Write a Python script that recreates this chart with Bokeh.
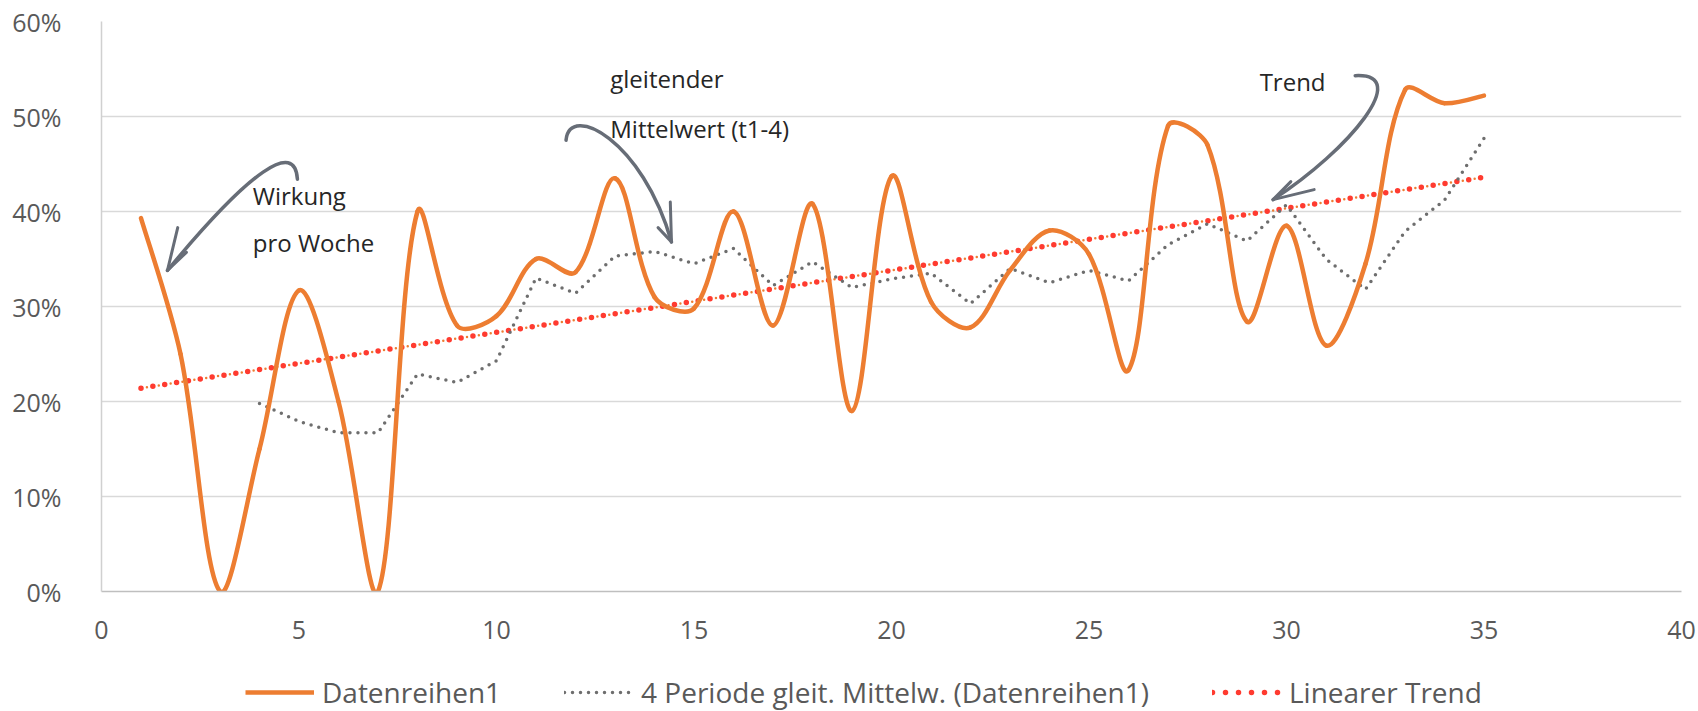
import math
from bokeh.plotting import figure
from bokeh.layouts import column
from bokeh.models import Range1d, FixedTicker, PrintfTickFormatter, Legend, LegendItem
from bokeh.embed import file_html
from bokeh.resources import INLINE
from bokeh.core.properties import value

# ---------------- data ----------------
weeks = list(range(1, 36))
wirkung = [39.3, 25.0, 0.0, 15.0, 31.7, 20.0, 0.0, 40.0, 28.0, 29.0,
           35.0, 33.6, 43.5, 31.0, 29.8, 40.0, 28.0, 40.8, 19.0, 43.7,
           30.5, 27.8, 33.8, 38.0, 35.5, 23.3, 49.0, 47.0, 28.4, 38.5,
           25.9, 34.5, 52.8, 51.4, 52.2]

ma_weeks = list(range(4, 36))
ma_values = [19.8, 17.9, 16.7, 16.7, 22.9, 22.0, 24.3, 33.0,
             31.4, 35.3, 35.8, 34.5, 36.1, 32.2, 34.7, 32.0,
             32.9, 33.5, 30.3, 34.0, 32.5, 33.8, 32.7, 36.5,
             38.7, 36.9, 40.7, 35.0, 31.8, 37.9, 41.2, 47.7]

trend_weeks = [1, 35]
trend_values = [21.4, 43.6]

x_ticks = [0, 5, 10, 15, 20, 25, 30, 35, 40]
y_ticks = [0, 10, 20, 30, 40, 50, 60]

legend_labels = ["Datenreihen1", "4 Periode gleit. Mittelw. (Datenreihen1)", "Linearer Trend"]
annot_texts = ["Wirkung", "pro Woche", "gleitender", "Mittelwert (t1-4)", "Trend"]

# ---------------- styling ----------------
W = 1698
H_MAIN, H_LEG = 652, 59
MB_L, MB_R, MB_T = 101, 17, 21
MB_B = H_MAIN - 21 - 570
FONT = "Open Sans"
ORANGE = "#ED7D31"
GRAY = "#6E6E6E"
RED = "#FF3B30"
ARROW = "#676D77"

PX_X = (W - MB_L - MB_R) / 40.0
PX_Y = (H_MAIN - MB_T - MB_B) / 60.0


def smooth_segments(xs, ys):
    """Bezier control points (Excel-like smoothing) for a smooth line through the points."""
    n = len(xs)

    def dist(i, j):
        return math.hypot((xs[j] - xs[i]) * PX_X, (ys[j] - ys[i]) * PX_Y)

    out = {k: [] for k in ("x0", "y0", "x1", "y1", "cx0", "cy0", "cx1", "cy1")}
    for i in range(n - 1):
        im1 = max(i - 1, 0)
        ip2 = min(i + 2, n - 1)
        di = dist(i, i + 1)
        dprev = dist(im1, i) if i > 0 else di
        dnext = dist(i + 1, ip2) if i + 2 <= n - 1 else di
        f0 = di / (3 * (dprev + di))
        f1 = di / (3 * (di + dnext))
        out["x0"].append(xs[i]); out["y0"].append(ys[i])
        out["x1"].append(xs[i + 1]); out["y1"].append(ys[i + 1])
        out["cx0"].append(xs[i] + (xs[i + 1] - xs[im1]) * f0)
        out["cy0"].append(ys[i] + (ys[i + 1] - ys[im1]) * f0)
        out["cx1"].append(xs[i + 1] - (xs[ip2] - xs[i]) * f1)
        out["cy1"].append(ys[i + 1] - (ys[ip2] - ys[i]) * f1)
    return out


p = figure(width=W, height=H_MAIN, x_range=Range1d(0, 40), y_range=Range1d(0, 60),
           output_backend="svg", toolbar_location=None,
           min_border_left=MB_L, min_border_right=MB_R,
           min_border_top=MB_T, min_border_bottom=MB_B)
p.outline_line_color = None
p.background_fill_color = "white"
p.border_fill_color = "white"

p.xgrid.visible = False
p.ygrid.grid_line_color = "#D9D9D9"
p.ygrid.grid_line_width = 1.5
p.ygrid.ticker = FixedTicker(ticks=y_ticks)

p.xaxis.ticker = FixedTicker(ticks=x_ticks)
p.yaxis.ticker = FixedTicker(ticks=y_ticks)
p.yaxis.formatter = PrintfTickFormatter(format="%d%%")
for ax in (p.xaxis, p.yaxis):
    ax.major_tick_line_color = None
    ax.minor_tick_line_color = None
    ax.major_label_text_font = FONT
    ax.major_label_text_font_size = "25px"
    ax.major_label_text_color = "#595959"
p.xaxis.axis_line_color = "#BFBFBF"
p.xaxis.axis_line_width = 1.5
p.yaxis.axis_line_color = "#D0D0D0"
p.yaxis.axis_line_width = 1.5
p.xaxis.major_label_standoff = 23
p.yaxis.major_label_standoff = 34

# trend (orange small dots + red dots)
p.line(trend_weeks, trend_values, line_color=ORANGE, line_width=2.5,
       line_dash="0 12", line_dash_offset=6, line_cap="round")
p.line(trend_weeks, trend_values, line_color=RED, line_width=5.5,
       line_dash="0 12", line_cap="round")

# moving average
p.line(ma_weeks, ma_values, line_color=GRAY, line_width=3.5,
       line_dash="0 8", line_cap="round")

# data series (smoothed)
seg = smooth_segments(weeks, wirkung)
p.bezier(x0=seg["x0"], y0=seg["y0"], x1=seg["x1"], y1=seg["y1"],
         cx0=seg["cx0"], cy0=seg["cy0"], cx1=seg["cx1"], cy1=seg["cy1"],
         line_color=ORANGE, line_width=4.5, line_cap="round", line_join="round")

# annotations
p.text(x=[3.83, 3.83, 12.88, 12.88, 29.32], y=[41.7, 36.7, 54.0, 48.75, 53.7],
       text=annot_texts, text_font=value(FONT), text_font_size="24px",
       text_color="#262626", text_baseline="alphabetic", text_align="left")

# curved arrows
p.bezier(x0=[4.96, 11.76, 31.74], y0=[43.4, 47.5, 54.3],
         x1=[1.67, 14.43, 29.66], y1=[33.8, 36.8, 41.25],
         cx0=[4.9, 11.85, 33.2], cy0=[47.5, 51.5, 54.6],
         cx1=[3.8, 13.7, 31.6], cy1=[44.5, 47.5, 46.5],
         line_color=ARROW, line_width=3.5, line_cap="round")
p.segment(x0=[1.67, 1.67, 14.43, 14.43, 29.66, 29.66],
          y0=[33.8, 33.8, 36.8, 36.8, 41.25, 41.25],
          x1=[1.93, 2.15, 14.4, 14.09, 30.11, 30.7],
          y1=[38.3, 35.7, 41.0, 38.3, 43.15, 42.3],
          line_color=ARROW, line_width=3, line_cap="round")

# ---------------- legend strip ----------------
lf = figure(width=W, height=H_LEG, x_range=Range1d(0, 1), y_range=Range1d(0, 1),
            x_axis_type=None, y_axis_type=None, output_backend="svg",
            toolbar_location=None, min_border=0)
lf.outline_line_color = None
lf.grid.visible = False
nan = float("nan")
lg_data = lf.line([nan], [nan], line_color=ORANGE, line_width=4.5)
lg_ma = lf.line([nan], [nan], line_color=GRAY, line_width=3.5, line_dash="0 8", line_cap="round")
lg_tr = lf.line([nan], [nan], line_color=RED, line_width=5.5, line_dash="0 13", line_cap="round")

legend = Legend(items=[LegendItem(label=legend_labels[0], renderers=[lg_data]),
                       LegendItem(label=legend_labels[1], renderers=[lg_ma]),
                       LegendItem(label=legend_labels[2], renderers=[lg_tr])],
                location=(144, 0), orientation="horizontal",
                glyph_width=69, glyph_height=20, label_standoff=8, spacing=63,
                padding=0, margin=0, border_line_color=None,
                background_fill_alpha=0,
                label_text_font=FONT, label_text_font_size="28px",
                label_text_color="#595959")
lf.add_layout(legend)

layout = column(p, lf, spacing=0)
open("out.html", "w").write(file_html(layout, INLINE))
